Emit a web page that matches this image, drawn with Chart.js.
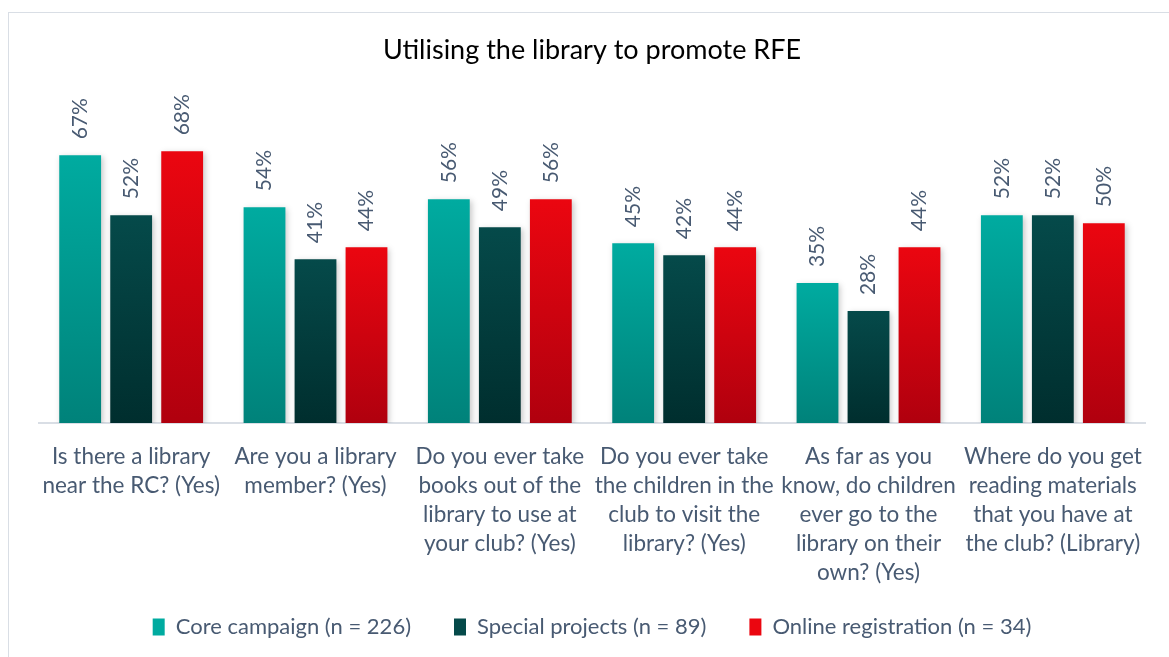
<!DOCTYPE html>
<html>
<head>
<meta charset="utf-8">
<script src="https://cdn.jsdelivr.net/npm/chart.js@4/dist/chart.umd.min.js"></script>
<style>
  html, body { margin: 0; padding: 0; background: #fff; overflow: hidden; }
  #frame {
    position: absolute; left: 8px; top: 12px; width: 1200px; height: 700px;
    border-left: 1px solid #d9dee5; border-top: 1px solid #d9dee5;
  }
  #chart { position: absolute; left: 0; top: 0; }
</style>
</head>
<body>
<div id="frame"></div>
<canvas id="chart" width="1169" height="657"></canvas>
<script>
const categories = [
  ["Is there a library", "near the RC? (Yes)"],
  ["Are you a library", "member? (Yes)"],
  ["Do you ever take", "books out of the", "library to use at", "your club? (Yes)"],
  ["Do you ever take", "the children in the", "club to visit the", "library? (Yes)"],
  ["As far as you", "know, do children", "ever go to the", "library on their", "own? (Yes)"],
  ["Where do you get", "reading materials", "that you have at", "the club? (Library)"],
];
const seriesNames = ["Core campaign (n = 226)", "Special projects (n = 89)", "Online registration (n = 34)"];
const coreCampaign = [67, 54, 56, 45, 35, 52];
const specialProjects = [52, 41, 49, 42, 28, 52];
const onlineRegistration = [68, 44, 56, 44, 44, 50];

const FONT = "Lato, 'Noto Sans', sans-serif";
const TEXT_COLOR = "#485a72";

// top / bottom colours of each bar gradient
const shades = [
  ["#00aba0", "#00827a"],
  ["#054a4a", "#002e2e"],
  ["#eb0610", "#b0000e"],
];

function barGradient(idx) {
  return function (context) {
    const chart = context.chart;
    const yScale = chart.scales.y;
    if (!yScale || context.parsed == null) return shades[idx][0];
    const top = yScale.getPixelForValue(context.parsed.y);
    const base = yScale.getPixelForValue(0);
    if (!isFinite(top) || !isFinite(base) || top === base) return shades[idx][0];
    const g = chart.ctx.createLinearGradient(0, top, 0, base);
    g.addColorStop(0, shades[idx][0]);
    g.addColorStop(1, shades[idx][1]);
    return g;
  };
}

// soft shadow behind the bars
const barShadow = {
  id: "barShadow",
  beforeDatasetsDraw(chart) {
    const ctx = chart.ctx;
    ctx.save();
    ctx.shadowColor = "rgba(0,0,0,0.22)";
    ctx.shadowBlur = 6;
    ctx.shadowOffsetX = 2;
    ctx.shadowOffsetY = 2;
  },
  afterDatasetsDraw(chart) {
    chart.ctx.restore();
  },
};

// rotated value labels above each bar
const valueLabels = {
  id: "valueLabels",
  afterDatasetsDraw(chart) {
    const ctx = chart.ctx;
    ctx.save();
    ctx.font = "21px " + FONT;
    ctx.fillStyle = TEXT_COLOR;
    ctx.textAlign = "left";
    ctx.textBaseline = "middle";
    chart.data.datasets.forEach((ds, i) => {
      const meta = chart.getDatasetMeta(i);
      meta.data.forEach((bar, j) => {
        ctx.save();
        ctx.translate(bar.x, bar.y - 16);
        ctx.rotate(-Math.PI / 2);
        ctx.fillText(ds.data[j] + "%", 0, 0);
        ctx.restore();
      });
    });
    ctx.restore();
  },
};

new Chart(document.getElementById("chart"), {
  type: "bar",
  data: {
    labels: categories,
    datasets: [coreCampaign, specialProjects, onlineRegistration].map((values, i) => ({
      label: seriesNames[i],
      data: values,
      backgroundColor: barGradient(i),
      categoryPercentage: 0.83,
      barPercentage: 0.82,
    })),
  },
  options: {
    responsive: false,
    animation: false,
    layout: { padding: { left: 39, right: 24, top: 0, bottom: 9 } },
    scales: {
      x: {
        grid: { display: false, drawTicks: false },
        border: { display: true, color: "#d9dee5", width: 2 },
        ticks: {
          color: TEXT_COLOR,
          font: { family: FONT, size: 22.5, lineHeight: 1.29 },
          padding: 19,
          maxRotation: 0,
          autoSkip: false,
        },
      },
      y: {
        display: false,
        min: 0,
        max: 80,
      },
    },
    plugins: {
      title: {
        display: true,
        text: "Utilising the library to promote RFE",
        color: "#000",
        font: { family: FONT, size: 27, weight: "normal" },
        padding: { top: 34, bottom: 37 },
      },
      legend: {
        position: "bottom",
        labels: {
          color: TEXT_COLOR,
          font: { family: FONT, size: 22 },
          boxWidth: 12,
          boxHeight: 17,
          padding: 10,
          generateLabels(chart) {
            const n = chart.data.datasets.length;
            return chart.data.datasets.map((ds, i) => ({
              // wider gap between the legend entries, as in the original
              text: i < n - 1 ? ds.label + "\u2003\u2003" : ds.label,
              fillStyle: shades[i][0],
              strokeStyle: shades[i][1],
              lineWidth: 0,
              datasetIndex: i,
              fontColor: TEXT_COLOR,
            }));
          },
        },
      },
      tooltip: { enabled: false },
    },
  },
  plugins: [barShadow, valueLabels],
});
</script>
</body>
</html>
